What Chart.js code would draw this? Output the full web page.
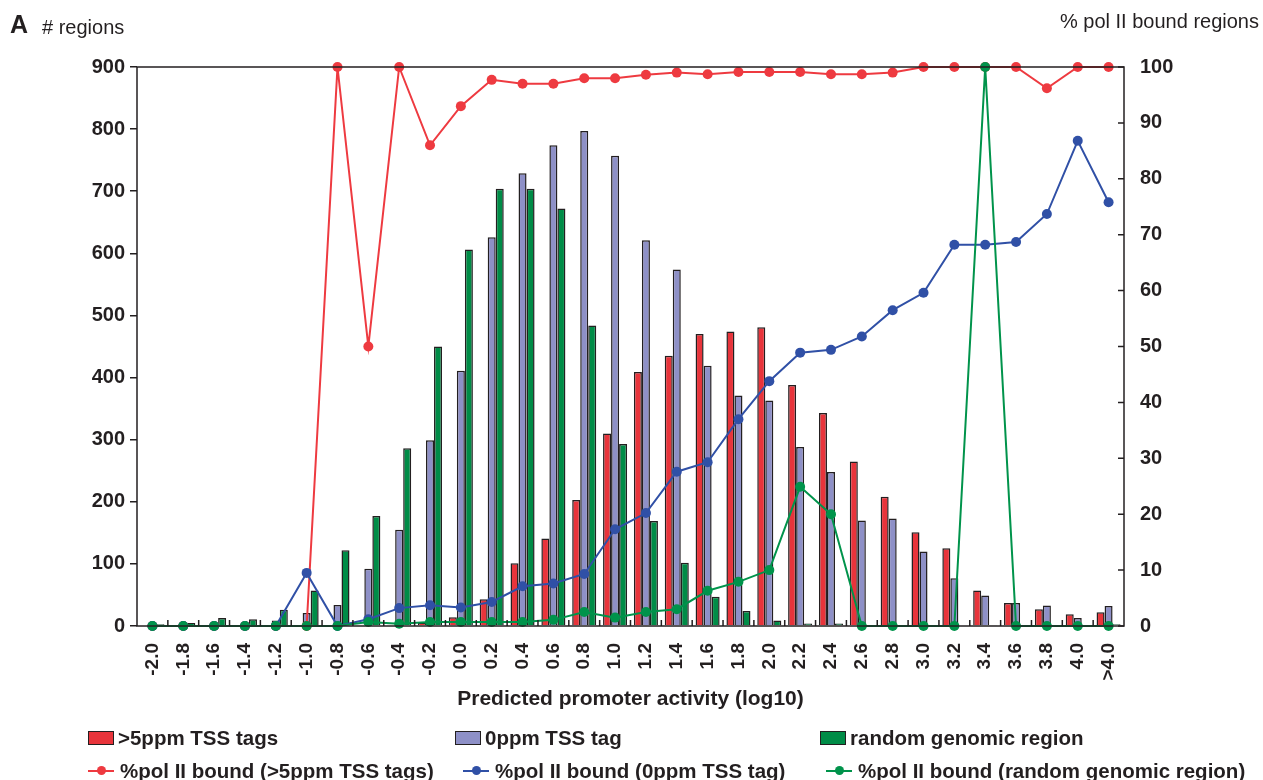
<!DOCTYPE html>
<html>
<head>
<meta charset="utf-8">
<script src="https://cdn.jsdelivr.net/npm/chart.js@4.4.0/dist/chart.umd.min.js"></script>
<style>
  body { margin: 0; background: #fff; font-family: "Liberation Sans", Arial, sans-serif; color: #231f20; }
  #wrap { position: relative; width: 1263px; height: 780px; }
  #chart { position: absolute; left: 0; top: 0; }
  .hdr { position: absolute; line-height: 1; white-space: nowrap; }
  .leg { position: absolute; display: flex; align-items: center; font-weight: bold; font-size: 20.5px; line-height: 1; white-space: nowrap; }
  .box { width: 24px; height: 12px; border: 1.5px solid #231f20; margin-right: 4px; }
  .ln { position: relative; width: 26px; height: 2px; margin-right: 6px; }
  .ln i { position: absolute; left: 9px; top: -4px; width: 9px; height: 9px; border-radius: 50%; }
</style>
</head>
<body>
<div id="wrap">
  <canvas id="chart" width="1263" height="780"></canvas>
  <div class="hdr" style="left:10px; top:12px; font-size:25px; font-weight:bold;">A</div>
  <div class="hdr" style="left:42px; top:17px; font-size:20px;"># regions</div>
  <div class="hdr" style="right:4px; top:11px; font-size:20px;">% pol II bound regions</div>
  <div id="legend"></div>
</div>
<script>
const labels = ['-2.0', '-1.8', '-1.6', '-1.4', '-1.2', '-1.0', '-0.8', '-0.6', '-0.4', '-0.2',
    '0.0', '0.2', '0.4', '0.6', '0.8', '1.0', '1.2', '1.4', '1.6', '1.8',
    '2.0', '2.2', '2.4', '2.6', '2.8', '3.0', '3.2', '3.4', '3.6', '3.8', '4.0', '>4.0'];

// # regions (left axis)
const tss5Counts = [0, 0, 0, 0, 0, 1, 1, 2, 2, 5,
    14, 43, 101, 141, 203, 310, 409, 435, 470, 474,
    481, 388, 343, 265, 208, 151, 125, 57, 37, 27, 19, 22];
const tss0Counts = [2, 2, 2, 1, 9, 21, 34, 92, 155, 299,
    411, 626, 729, 774, 797, 757, 621, 574, 419, 371,
    363, 288, 248, 170, 173, 120, 77, 49, 37, 33, 13, 32];
const randomCounts = [3, 5, 13, 11, 26, 57, 122, 177, 286, 450,
    606, 704, 704, 672, 484, 293, 169, 102, 47, 24,
    9, 4, 4, 1, 1, 0, 0, 1, 0, 0, 0, 3];

// % pol II bound (right axis)
const tss5Pct = [0, 0, 0, 0, 0, 0, 100, 50, 100, 86,
    93, 97.7, 97, 97, 98, 98, 98.6, 99, 98.7, 99.1,
    99.1, 99.1, 98.7, 98.7, 99, 100, 100, 100, 100, 96.2, 100, 100];
const tss0Pct = [0, 0, 0, 0, 0, 9.5, 0, 1.2, 3.2, 3.7,
    3.3, 4.3, 7.1, 7.6, 9.3, 17.3, 20.2, 27.6, 29.3, 37,
    43.8, 48.9, 49.4, 51.8, 56.5, 59.6, 68.2, 68.2, 68.7, 73.7, 86.8, 75.8];
const randomPct = [0, 0, 0, 0, 0, 0, 0, 0.7, 0.4, 0.7,
    0.7, 0.7, 0.7, 1.1, 2.5, 1.5, 2.5, 3.0, 6.3, 7.9,
    10.0, 24.9, 20.0, 0, 0, 0, 0, 100, 0, 0, 0, 0];

const countTicks = [0, 100, 200, 300, 400, 500, 600, 700, 800, 900];
const pctTicks = [0, 10, 20, 30, 40, 50, 60, 70, 80, 90, 100];

const INK = '#231f20';
const RED = '#e8343b', LAV = '#8e90c7', GRN = '#008c47';
const RED_LN = '#ee3a40', BLU_LN = '#3050a6', GRN_LN = '#00934b';

function barSet(label, data, color) {
    return { type: 'bar', label, data, backgroundColor: color, borderColor: INK, borderWidth: 1.5,
        yAxisID: 'y', order: 10, barPercentage: 1.0, categoryPercentage: 0.78 };
}
function lineSet(label, data, color, order) {
    return { type: 'line', label, data, borderColor: color, backgroundColor: color, borderWidth: 2,
        pointRadius: 5, pointBorderWidth: 0, pointBackgroundColor: color, tension: 0,
        yAxisID: 'y2', order, clip: false };
}

// frame + inward tick marks on x and right axis
const framePlugin = {
    id: 'frame',
    afterDraw(chart) {
        const { ctx, chartArea: a, scales } = chart;
        ctx.save();
        ctx.strokeStyle = INK;
        ctx.lineWidth = 1.5;
        ctx.strokeRect(a.left, a.top, a.right - a.left, a.bottom - a.top);
        ctx.beginPath();
        const x = scales.x;
        const step = x.getPixelForValue(1) - x.getPixelForValue(0);
        for (let i = 1; i < labels.length; i++) {
            const px = x.getPixelForValue(i) - step / 2;
            ctx.moveTo(px, a.bottom);
            ctx.lineTo(px, a.bottom - 6);
        }
        pctTicks.forEach(v => {
            const py = scales.y2.getPixelForValue(v);
            ctx.moveTo(a.right - 6, py);
            ctx.lineTo(a.right, py);
        });
        ctx.stroke();
        ctx.restore();
    }
};

const chart = new Chart(document.getElementById('chart').getContext('2d'), {
    data: {
        labels,
        datasets: [
            barSet('>5ppm TSS tags', tss5Counts, RED),
            barSet('0ppm TSS tag', tss0Counts, LAV),
            barSet('random genomic region', randomCounts, GRN),
            lineSet('%pol II bound (>5ppm TSS tags)', tss5Pct, RED_LN, 3),
            lineSet('%pol II bound (0ppm TSS tag)', tss0Pct, BLU_LN, 2),
            lineSet('%pol II bound (random genomic region)', randomPct, GRN_LN, 1)
        ]
    },
    options: {
        responsive: false,
        animation: false,
        layout: { padding: { top: 67, bottom: 66, left: 0, right: 0 }, autoPadding: false },
        scales: {
            x: {
                offset: true,
                grid: { display: false },
                border: { display: false },
                ticks: { color: INK, autoSkip: false, minRotation: 90, maxRotation: 90, padding: 9,
                    font: { family: 'Liberation Sans', size: 19, weight: 'bold' } },
                title: { display: true, text: 'Predicted promoter activity (log10)', color: INK,
                    padding: { top: 0, bottom: 2 },
                    font: { family: 'Liberation Sans', size: 21, weight: 'bold' } },
                afterFit: s => { s.height = 88; }
            },
            y: {
                position: 'left', min: 0, max: 900,
                afterBuildTicks: s => { s.ticks = countTicks.map(v => ({ value: v })); },
                grid: { drawOnChartArea: false, tickLength: 7, color: INK, lineWidth: 1.5 },
                border: { display: false },
                ticks: { color: INK, padding: 5, font: { family: 'Liberation Sans', size: 20, weight: 'bold' } },
                afterFit: s => { s.width = 137; }
            },
            y2: {
                position: 'right', min: 0, max: 100,
                afterBuildTicks: s => { s.ticks = pctTicks.map(v => ({ value: v })); },
                grid: { display: false },
                border: { display: false },
                ticks: { color: INK, padding: 8, font: { family: 'Liberation Sans', size: 20, weight: 'bold' } },
                afterFit: s => { s.width = 139; }
            }
        },
        plugins: { legend: { display: false }, tooltip: { enabled: false } }
    },
    plugins: [framePlugin]
});

// legend laid out in the three-column grid of the figure
const legendPos = [
    { left: 88, top: 728 }, { left: 455, top: 728 }, { left: 820, top: 728 },
    { left: 88, top: 761 }, { left: 463, top: 761 }, { left: 826, top: 761 }
];
const legendEl = document.getElementById('legend');
chart.data.datasets.forEach((ds, i) => {
    const item = document.createElement('div');
    item.className = 'leg';
    item.style.left = legendPos[i].left + 'px';
    item.style.top = legendPos[i].top + 'px';
    if (ds.type === 'bar') {
        item.innerHTML = `<span class="box" style="background:${ds.backgroundColor}"></span>${ds.label}`;
    } else {
        item.innerHTML = `<span class="ln" style="background:${ds.borderColor}"><i style="background:${ds.borderColor}"></i></span>${ds.label}`;
    }
    legendEl.appendChild(item);
});
</script>
</body>
</html>
